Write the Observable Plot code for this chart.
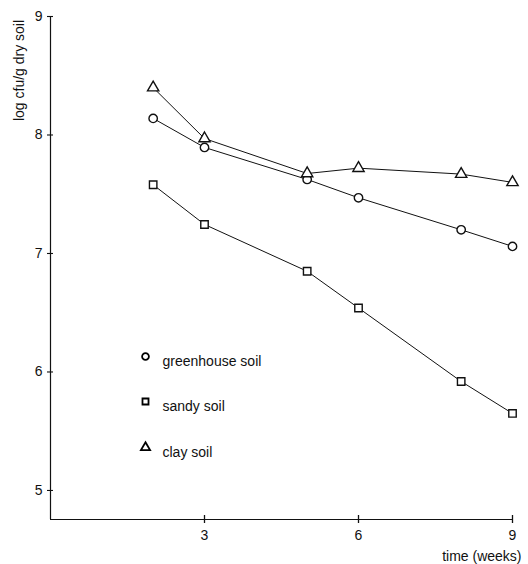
<!DOCTYPE html>
<html>
<head>
<meta charset="utf-8">
<script src="https://cdn.jsdelivr.net/npm/d3@7"></script>
<script src="https://cdn.jsdelivr.net/npm/@observablehq/plot@0.6"></script>
<style>
  html, body { margin: 0; padding: 0; background: #fff; }
  svg { display: block; }
</style>
</head>
<body>
<div id="chart"></div>
<script>
const weeks = [2, 3, 5, 6, 8, 9];
const greenhouse = [8.14, 7.895, 7.625, 7.47, 7.20, 7.06];
const sandy = [7.58, 7.245, 6.85, 6.54, 5.92, 5.65];
const clay = [8.40, 7.97, 7.675, 7.72, 7.67, 7.60];
const seriesNames = ["greenhouse soil", "sandy soil", "clay soil"];
const seriesSymbols = ["circle", "square", "triangle"];
const xTicks = [3, 6, 9];
const yTicks = [5, 6, 7, 8, 9];
const xLabel = "time (weeks)";
const yLabel = "log cfu/g dry soil";

const seriesValues = [greenhouse, sandy, clay];
const rows = seriesValues.flatMap((vals, s) =>
  weeks.map((w, i) => ({ week: w, value: vals[i], series: seriesNames[s], symbol: seriesSymbols[s] })));

const font = "'Liberation Sans', Arial, Helvetica, sans-serif";
const legendOffsets = [340, 385, 431];

const legendMarks = seriesNames.flatMap((name, i) => [
  Plot.dot([name], {frameAnchor: "top-left", dx: 95, dy: legendOffsets[i], symbol: () => seriesSymbols[i], r: 3.4, stroke: "black", strokeWidth: 1.8, fill: "white"}),
  Plot.text([name], {frameAnchor: "top-left", dx: 112, dy: legendOffsets[i], text: d => d, textAnchor: "start", fontSize: 14, fill: "#111"})
]);

const chart = Plot.plot({
  width: 528,
  height: 564,
  marginLeft: 50,
  marginRight: 16,
  marginTop: 16,
  marginBottom: 45,
  style: { fontFamily: font, fontSize: "14px", color: "#111", background: "white" },
  x: { domain: [0, 9], label: null },
  y: { domain: [4.755, 9], label: null },
  marks: [
    Plot.axisX({ticks: xTicks, tickSize: 8, dy: -4, tickPadding: 7, fontSize: 14, label: null, strokeWidth: 1.3}),
    Plot.axisY({ticks: yTicks, tickFormat: d3.format("d"), tickSize: 6, dx: 3, tickPadding: 5, fontSize: 14, label: null, strokeWidth: 1.1}),
    Plot.ruleX([0], {stroke: "#111", strokeWidth: 1.2}),
    Plot.ruleY([4.755], {stroke: "#111", strokeWidth: 1.2}),
    Plot.line(rows, {x: "week", y: "value", z: "series", stroke: "#111", strokeWidth: 1}),
    Plot.dot(rows, {x: "week", y: "value", symbol: "symbol", r: 4.2, stroke: "#111", strokeWidth: 1.4, fill: "white"}),
    ...legendMarks,
    Plot.text([xLabel], {frameAnchor: "bottom-right", dx: 9, dy: 41, text: d => d, textAnchor: "end", fontSize: 14, fill: "#111"}),
    Plot.text([yLabel], {frameAnchor: "top-left", dx: -36, dy: 54, rotate: -90, text: d => d, textAnchor: "middle", fontSize: 14, fill: "#111", style: "letter-spacing:0.8px"})
  ]
});
document.getElementById("chart").appendChild(chart);
</script>
</body>
</html>
